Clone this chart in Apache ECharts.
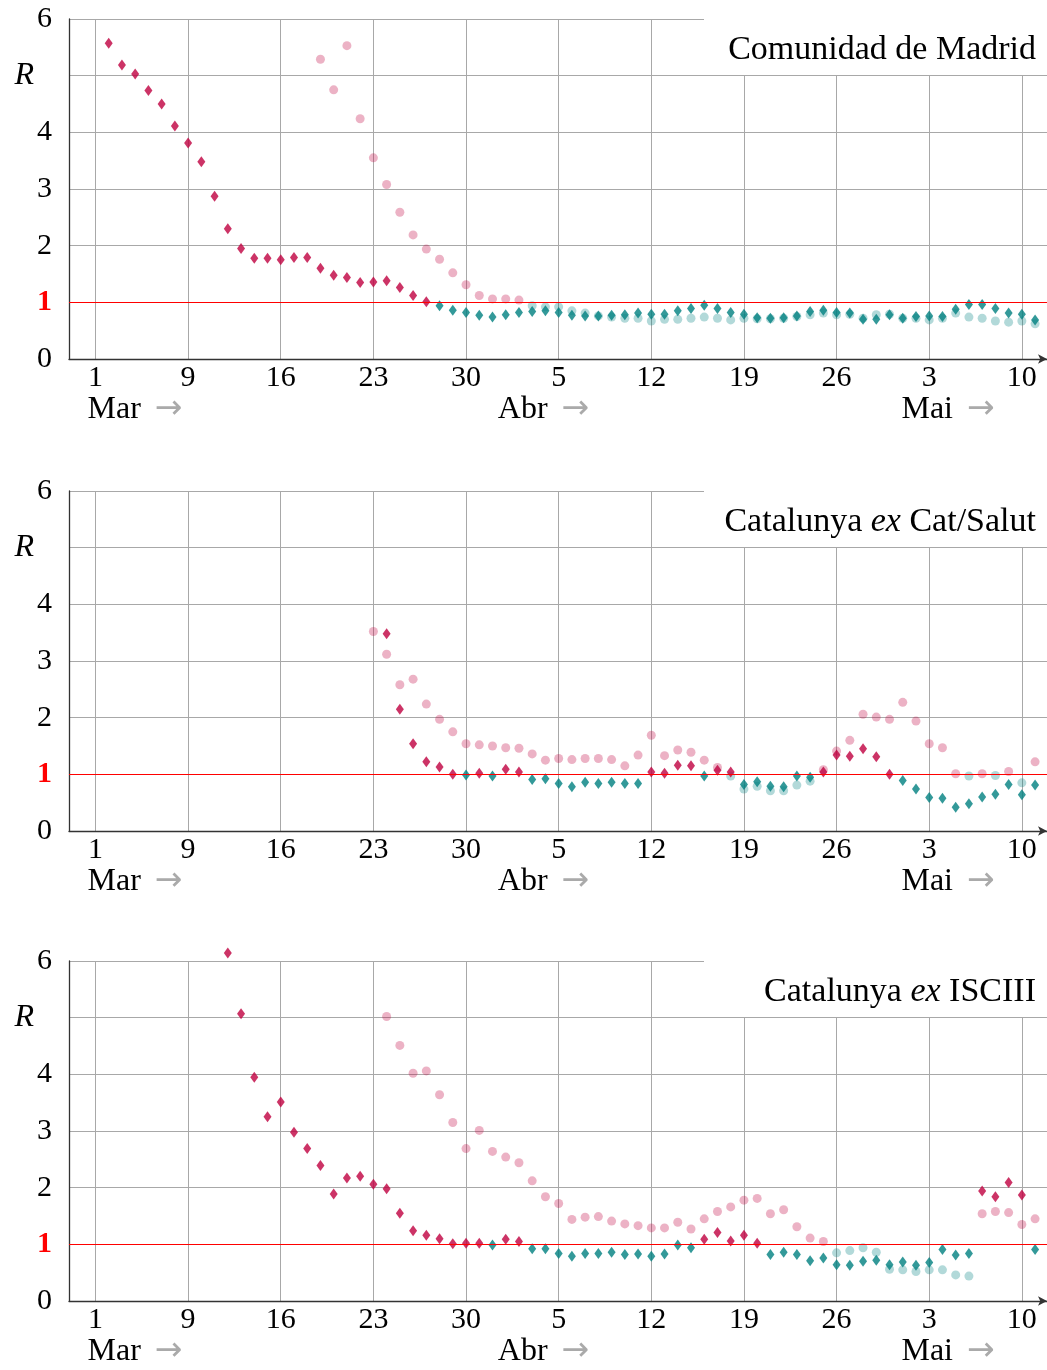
<!DOCTYPE html>
<html>
<head>
<meta charset="utf-8">
<script src="https://cdn.jsdelivr.net/npm/echarts@6/dist/echarts.min.js"></script>
<style>
  html, body { margin: 0; padding: 0; background: #fff; }
  #chart { width: 1047px; height: 1370px; }
</style>
</head>
<body>
<div id="chart"></div>
<script>
// x = day number, 0 is the tick labelled "1" (Mar)
const tickDays = [0, 7, 14, 21, 28, 35, 42, 49, 56, 63, 70];
const tickLabels = ['1', '9', '16', '23', '30', '5', '12', '19', '26', '3', '10'];
const monthDays = [-0.6, 30.4, 60.9];
const monthLabels = ['Mar', 'Abr', 'Mai'];

// Comunidad de Madrid
const madridDiamondStart = 1;
const madridDiamonds = [5.57, 5.19, 5.03, 4.74, 4.50, 4.11, 3.81, 3.48, 2.87, 2.30,
  1.95, 1.78, 1.78, 1.75, 1.79, 1.79, 1.60, 1.48, 1.44, 1.35,
  1.36, 1.38, 1.26, 1.12, 1.01, 0.94, 0.86, 0.82, 0.77, 0.74,
  0.78, 0.82, 0.84, 0.85, 0.82, 0.77, 0.76, 0.76, 0.77, 0.78,
  0.81, 0.79, 0.79, 0.85, 0.89, 0.95, 0.89, 0.82, 0.79, 0.73,
  0.72, 0.73, 0.76, 0.84, 0.86, 0.82, 0.81, 0.70, 0.70, 0.78,
  0.72, 0.75, 0.76, 0.75, 0.88, 0.96, 0.96, 0.89, 0.81, 0.79, 0.69];
const madridCircleStart = 17;
const madridCircles = [5.29, 4.75, 5.53, 4.24, 3.55, 3.08, 2.59, 2.19, 1.94, 1.76,
  1.52, 1.31, 1.12, 1.06, 1.06, 1.04, 0.94, 0.92, 0.92, 0.85,
  0.81, 0.76, 0.74, 0.72, 0.72, 0.67, 0.70, 0.70, 0.72, 0.74,
  0.72, 0.69, 0.72, 0.71, 0.71, 0.72, 0.75, 0.78, 0.81, 0.78,
  0.79, 0.72, 0.78, 0.79, 0.72, 0.72, 0.69, 0.72, 0.81, 0.74,
  0.72, 0.67, 0.65, 0.67, 0.62];

// Catalunya ex Cat/Salut
const salutDiamondStart = 22;
const salutDiamonds = [3.48, 2.15, 1.54, 1.22, 1.13, 1.00, 0.99, 1.02, 0.97, 1.09,
  1.04, 0.91, 0.92, 0.84, 0.78, 0.86, 0.84, 0.86, 0.84, 0.84,
  1.04, 1.02, 1.16, 1.15, 0.97, 1.07, 1.04, 0.82, 0.87, 0.79,
  0.78, 0.97, 0.95, 1.04, 1.34, 1.32, 1.45, 1.31, 1.00, 0.89,
  0.74, 0.59, 0.58, 0.42, 0.48, 0.60, 0.65, 0.82, 0.64, 0.81];
const salutCircleStart = 21;
const salutCircles = [3.52, 3.12, 2.58, 2.68, 2.24, 1.97, 1.75, 1.54, 1.52, 1.50,
  1.47, 1.46, 1.36, 1.25, 1.28, 1.26, 1.28, 1.28, 1.26, 1.15,
  1.34, 1.69, 1.33, 1.43, 1.39, 1.25, 1.12, 0.97, 0.74, 0.79,
  0.71, 0.71, 0.81, 0.88, 1.08, 1.41, 1.60, 2.06, 2.01, 1.97,
  2.27, 1.94, 1.54, 1.47, 1.01, 0.97, 1.01, 0.98, 1.05, 0.85, 1.22];

// Catalunya ex ISCIII
const isciiiDiamondStart = 10;
const isciiiDiamonds = [6.14, 5.07, 3.95, 3.25, 3.51, 2.98, 2.69, 2.39, 1.89, 2.17,
  2.20, 2.06, 1.98, 1.55, 1.24, 1.16, 1.10, 1.01, 1.02, 1.02,
  0.99, 1.09, 1.05, 0.92, 0.92, 0.84, 0.79, 0.84, 0.84, 0.86,
  0.82, 0.83, 0.79, 0.83, 0.99, 0.94, 1.09, 1.21, 1.06, 1.16,
  1.02, 0.82, 0.86, 0.82, 0.71, 0.76, 0.64, 0.63, 0.70, 0.72,
  0.64, 0.69, 0.63, 0.68, 0.91, 0.81, 0.84, 1.94, 1.84, 2.09, 1.87, 0.91];
const isciiiCircleStart = 22;
const isciiiCircles = [5.02, 4.51, 4.02, 4.06, 3.64, 3.15, 2.69, 3.01, 2.64, 2.54,
  2.44, 2.12, 1.84, 1.72, 1.44, 1.48, 1.49, 1.41, 1.36, 1.33,
  1.29, 1.29, 1.39, 1.27, 1.45, 1.58, 1.66, 1.78, 1.81, 1.54,
  1.61, 1.31, 1.11, 1.05, 0.85, 0.89, 0.94, 0.86, 0.56, 0.55,
  0.52, 0.55, 0.55, 0.46, 0.44, 1.54, 1.58, 1.56, 1.35, 1.45];

const panels = [
  { title: '{n|Comunidad de Madrid}', dStart: madridDiamondStart, d: madridDiamonds, cStart: madridCircleStart, c: madridCircles },
  { title: '{n|Catalunya }{i|ex}{n| Cat/Salut}', dStart: salutDiamondStart, d: salutDiamonds, cStart: salutCircleStart, c: salutCircles },
  { title: '{n|Catalunya }{i|ex}{n| ISCIII}', dStart: isciiiDiamondStart, d: isciiiDiamonds, cStart: isciiiCircleStart, c: isciiiCircles }
];

const FONT = 'Liberation Serif';
const gridTops = [19, 491, 961];
const gridH = 340;
const purple = '#bf0040';
const teal = '#008080';
const gridColor = '#a8a8a8';
const axisColor = '#333';

function toPoints(start, values) {
  return values.map(function (v, i) { return [start + i, v]; });
}

const grids = [], xAxes = [], yAxes = [], series = [], titles = [], rects = [];
const scatterIdx = [];

panels.forEach(function (p, i) {
  grids.push({ left: 69, top: gridTops[i], width: 978, height: gridH });

  xAxes.push({
    gridIndex: i, type: 'value', min: -2, max: 71.9,
    axisLine: { show: true, onZero: false, symbol: ['none', 'arrow'], symbolSize: [7, 9],
      lineStyle: { color: axisColor, width: 1.3 } },
    axisTick: { show: false, customValues: tickDays },
    splitLine: { show: true, lineStyle: { color: gridColor, width: 1 } },
    axisLabel: {
      customValues: tickDays, margin: 4,
      fontFamily: FONT, fontSize: 30, color: '#000',
      formatter: function (v) { return tickLabels[tickDays.indexOf(v)]; }
    }
  });
  xAxes.push({
    gridIndex: i, type: 'value', min: -2, max: 71.9, position: 'bottom', offset: 30,
    axisLine: { show: false }, axisTick: { show: false, customValues: monthDays },
    splitLine: { show: false },
    axisLabel: {
      customValues: monthDays, margin: 4, align: 'left',
      formatter: function (v) { return '{m|' + monthLabels[monthDays.indexOf(v)] + '}{a|→}'; },
      rich: {
        m: { fontFamily: FONT, fontSize: 32, color: '#000' },
        a: { fontFamily: 'DejaVu Sans', fontSize: 33, color: '#aaaaaa', padding: [0, 0, 0, 14] }
      }
    }
  });

  yAxes.push({
    gridIndex: i, type: 'value', min: 0, max: 6, interval: 1,
    axisLine: { show: true, onZero: false, lineStyle: { color: axisColor, width: 1.3 } },
    axisTick: { show: false },
    splitLine: { show: true, lineStyle: {
      color: [gridColor, '#ff0000', gridColor, gridColor, gridColor, gridColor, gridColor], width: 1 } },
    axisLabel: {
      margin: 17, fontFamily: FONT, fontSize: 30, color: '#000',
      formatter: function (v) {
        if (v === 5) return '{r|R}';
        if (v === 1) return '{one|1}';
        return String(v);
      },
      rich: {
        r: { fontFamily: FONT, fontSize: 32, fontStyle: 'italic', color: '#000', padding: [0, 18, 0, 0] },
        one: { fontFamily: FONT, fontSize: 30, fontWeight: 'bold', color: '#ff0000' }
      }
    }
  });

  series.push({
    type: 'scatter', xAxisIndex: 2 * i, yAxisIndex: i, clip: false, z: 2,
    symbol: 'circle', symbolSize: 9,
    itemStyle: { opacity: 0.3 },
    data: toPoints(p.cStart, p.c)
  });
  scatterIdx.push(series.length - 1);
  // R = 1 reference line, above the circles and below the diamonds
  series.push({
    type: 'line', xAxisIndex: 2 * i, yAxisIndex: i, z: 3, data: [],
    markLine: {
      silent: true, symbol: ['none', 'none'], label: { show: false },
      lineStyle: { color: '#ff0000', width: 1, type: 'solid', opacity: 1 },
      data: [{ yAxis: 1 }]
    }
  });
  series.push({
    type: 'scatter', xAxisIndex: 2 * i, yAxisIndex: i, clip: false, z: 4,
    symbol: 'diamond', symbolSize: [8, 11],
    data: toPoints(p.dStart, p.d)
  });
  scatterIdx.push(series.length - 1);

  titles.push({
    text: p.title, right: 11, top: gridTops[i] + 14, padding: 0, z: 20,
    textStyle: {
      rich: {
        n: { fontFamily: FONT, fontSize: 34, fontWeight: 'normal', color: '#000' },
        i: { fontFamily: FONT, fontSize: 34, fontWeight: 'normal', fontStyle: 'italic', color: '#000' }
      }
    }
  });
  rects.push({
    type: 'rect', z: 10,
    shape: { x: 704, y: gridTops[i] - 2, width: 350, height: 58 },
    style: { fill: '#fff' }
  });
});

const chart = echarts.init(document.getElementById('chart'));
chart.setOption({
  animation: false,
  backgroundColor: '#fff',
  title: titles,
  grid: grids,
  xAxis: xAxes,
  yAxis: yAxes,
  visualMap: {
    type: 'piecewise', show: false, dimension: 1, seriesIndex: scatterIdx,
    pieces: [{ lt: 1, color: teal }, { gte: 1, color: purple }]
  },
  graphic: { elements: rects },
  series: series
});
</script>
</body>
</html>
